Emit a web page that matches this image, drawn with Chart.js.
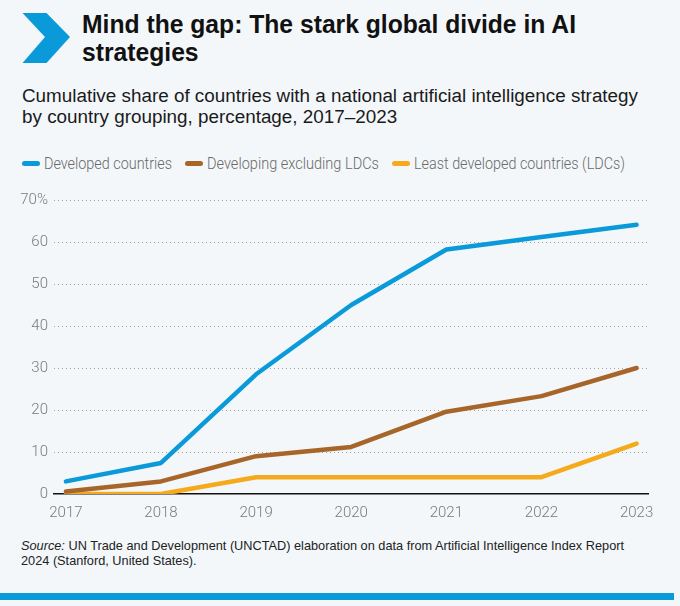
<!DOCTYPE html>
<html>
<head>
<meta charset="utf-8">
<script src="https://cdn.jsdelivr.net/npm/chart.js@4.4.1/dist/chart.umd.min.js"></script>
<style>
  html, body { margin:0; padding:0; }
  body { width:680px; height:606px; background:#f3f7fa; position:relative; overflow:hidden;
         font-family:'Liberation Sans', Arial, sans-serif; }
  #chev { position:absolute; left:0; top:0; }
  .blk { position:absolute; white-space:nowrap; transform-origin:0 0; }
  #title { left:82px; top:11px; font-size:25px; line-height:27.5px; font-weight:bold; color:#111; }
  #subtitle { left:22px; top:86px; font-size:18px; line-height:21px; color:#1a1a1a; }
  #legend { position:absolute; left:22px; top:153px; height:20px; display:flex; align-items:center;
            font-family:Roboto, sans-serif; font-weight:300; font-size:17px; color:#6a6a6a; white-space:nowrap; }
  .item { display:flex; align-items:center; margin-right:13px; }
  .mark { width:18px; height:5px; border-radius:2.5px; margin-right:4px; flex:none; }
  .lbl { display:inline-block; overflow:visible; }
  .lbl span { display:inline-block; transform-origin:0 50%; }
  #source { left:21px; top:539px; font-size:13px; line-height:14.5px; color:#222; }
  #bar { position:absolute; left:0; top:593px; width:674px; height:7px; background:#0a9ad9; }
  #wrap { position:absolute; left:0; top:185px; width:680px; height:339px; }
</style>
</head>
<body>
<svg id="chev" width="80" height="70"><polygon points="22.5,13 46.5,13 70,37 46.5,63 22.5,63 45,37" fill="#0a9ad9"/></svg>
<div id="title" class="blk" data-w="494"><span class="l1">Mind the gap: The stark global divide in AI</span><br>strategies</div>
<div id="subtitle" class="blk" data-w="616"><span class="l1">Cumulative share of countries with a national artificial intelligence strategy</span><br>by country grouping, percentage, 2017–2023</div>
<div id="legend"></div>
<div id="wrap"><canvas id="c"></canvas></div>
<div id="source" class="blk" data-w="603"><span class="l1"><i>Source:</i> UN Trade and Development (UNCTAD) elaboration on data from Artificial Intelligence Index Report</span><br>2024 (Stanford, United States).</div>
<div id="bar"></div>
<script>
const years = [2017, 2018, 2019, 2020, 2021, 2022, 2023];
const developed = [3, 7.4, 28.5, 45, 58.2, 61.2, 64.1];
const developingExLDC = [0.6, 3, 9, 11.2, 19.6, 23.3, 30];
const ldc = [0, 0, 4, 4, 4, 4, 12];
const seriesNames = ['Developed countries', 'Developing excluding LDCs', 'Least developed countries (LDCs)'];
const seriesColors = ['#0a9ad9', '#a8652a', '#f5aa1c'];
const yTicks = [0, 10, 20, 30, 40, 50, 60, 70];
const legendTextWidths = [128, 172, 211];

// condense text blocks horizontally to match the reference's narrow typeface
document.querySelectorAll('.blk').forEach(el => {
  const w = el.querySelector('.l1').getBoundingClientRect().width;
  el.style.transform = 'scaleX(' + (+el.dataset.w / w) + ')';
});

const seriesData = [developed, developingExLDC, ldc];
const datasets = seriesData.map((vals, i) => ({
  label: seriesNames[i],
  data: years.map((y, j) => ({x: y, y: vals[j]})),
  borderColor: seriesColors[i],
  backgroundColor: seriesColors[i],
  borderWidth: 4.5,
  pointRadius: 0,
  tension: 0,
  borderJoinStyle: 'round',
  borderCapStyle: 'round',
  fill: false
}));

// HTML legend built from the datasets
const leg = document.getElementById('legend');
datasets.forEach((d, i) => {
  const it = document.createElement('div'); it.className = 'item';
  const m = document.createElement('span'); m.className = 'mark'; m.style.background = d.borderColor;
  const t = document.createElement('span'); t.className = 'lbl';
  const inner = document.createElement('span'); inner.textContent = d.label;
  t.appendChild(inner); it.appendChild(m); it.appendChild(t); leg.appendChild(it);
  const w = inner.getBoundingClientRect().width;
  inner.style.transform = 'scaleX(' + (legendTextWidths[i] / w) + ')';
  t.style.width = legendTextWidths[i] + 'px';
});

const tickFont = {family: "Roboto, 'Liberation Sans', sans-serif", size: 15, weight: 300};
new Chart(document.getElementById('c'), {
  type: 'line',
  data: {datasets},
  options: {
    responsive: true, maintainAspectRatio: false, animation: false,
    layout: {padding: {top: 13, right: 32, left: 0, bottom: 0}},
    plugins: {legend: {display: false}, tooltip: {enabled: false}},
    scales: {
      x: {
        type: 'linear', min: 2016.875, max: 2023.12,
        grid: {display: false},
        border: {display: true, color: '#111', width: 1.5},
        ticks: {stepSize: 1, includeBounds: false, color: '#7a7a7a', font: tickFont, padding: 2,
                callback: v => String(v)},
        afterFit: s => { s.height = 30; }
      },
      y: {
        min: 0, max: 70,
        afterBuildTicks: s => { s.ticks = yTicks.map(v => ({value: v})); },
        grid: {color: ctx => ctx.tick && ctx.tick.value === 0 ? 'rgba(0,0,0,0)' : '#a3a3a3', lineWidth: 1, drawTicks: false},
        border: {display: false, dash: [1, 3]},
        ticks: {color: '#7a7a7a', font: tickFont, padding: 6,
                callback: v => v === 70 ? '70%' : String(v)},
        afterFit: s => { s.width = 54; }
      }
    }
  }
});
</script>
</body>
</html>
